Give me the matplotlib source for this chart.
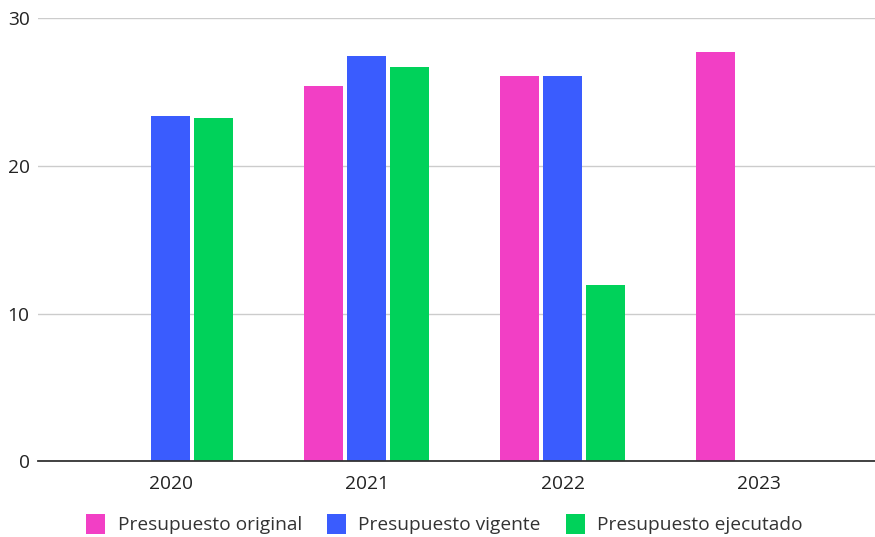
import numpy as np
import matplotlib.pyplot as plt
from matplotlib.patches import Patch

# Data.
years      = ["2020", "2021", "2022", "2023"]
original   = [np.nan, 25.4, 26.1, 27.7]
vigente    = [23.4, 27.4, 26.1, np.nan]
ejecutado  = [23.2, 26.7, 11.9, np.nan]
series_names = ["Presupuesto original", "Presupuesto vigente", "Presupuesto ejecutado"]
colors       = ["#F23FC5", "#3A5CFE", "#00D25A"]
y_ticks      = [0, 10, 20, 30]

plt.rcParams['font.family'] = ['Open Sans', 'DejaVu Sans']

fig = plt.figure(figsize=(8.75, 5.37), dpi=100)
ax  = fig.add_axes([38/875, 1-461.3/537, 1-38/875, (461.3-18)/537])

x = np.arange(len(years))
bar_width = 0.2
step      = 0.22
for k, (values, color) in enumerate(zip([original, vigente, ejecutado], colors)):
  ax.bar(x + (k-1)*step, values, width=bar_width, color=color, zorder=3)

# Style the axes.
ax.set_xlim(-0.676, 3.594)
ax.set_ylim(0, 30)
ax.set_yticks(y_ticks)
ax.set_xticks(x)
ax.set_xticklabels(years)
ax.yaxis.grid(True, color="#cccccc", linewidth=1, zorder=0)
for side in ["top", "right", "left"]:
  ax.spines[side].set_visible(False)
ax.spines["bottom"].set_color("#333333")
ax.spines["bottom"].set_linewidth(1.3)
ax.spines["bottom"].set_zorder(4)
ax.tick_params(axis="both", length=0, labelsize=13.8, colors="#222222")
ax.tick_params(axis="x", pad=10)
ax.tick_params(axis="y", pad=6)

# Legend underneath.
handles = [Patch(facecolor=c, edgecolor="none") for c in colors]
fig.legend(handles, series_names, loc="center", bbox_to_anchor=(0.508, 1-524/537),
           ncol=3, frameon=False, fontsize=13.8, handlelength=1.0, handleheight=1.3,
           handletextpad=0.65, columnspacing=1.3, labelcolor="#333333")

fig.savefig("out.png", dpi=100)
